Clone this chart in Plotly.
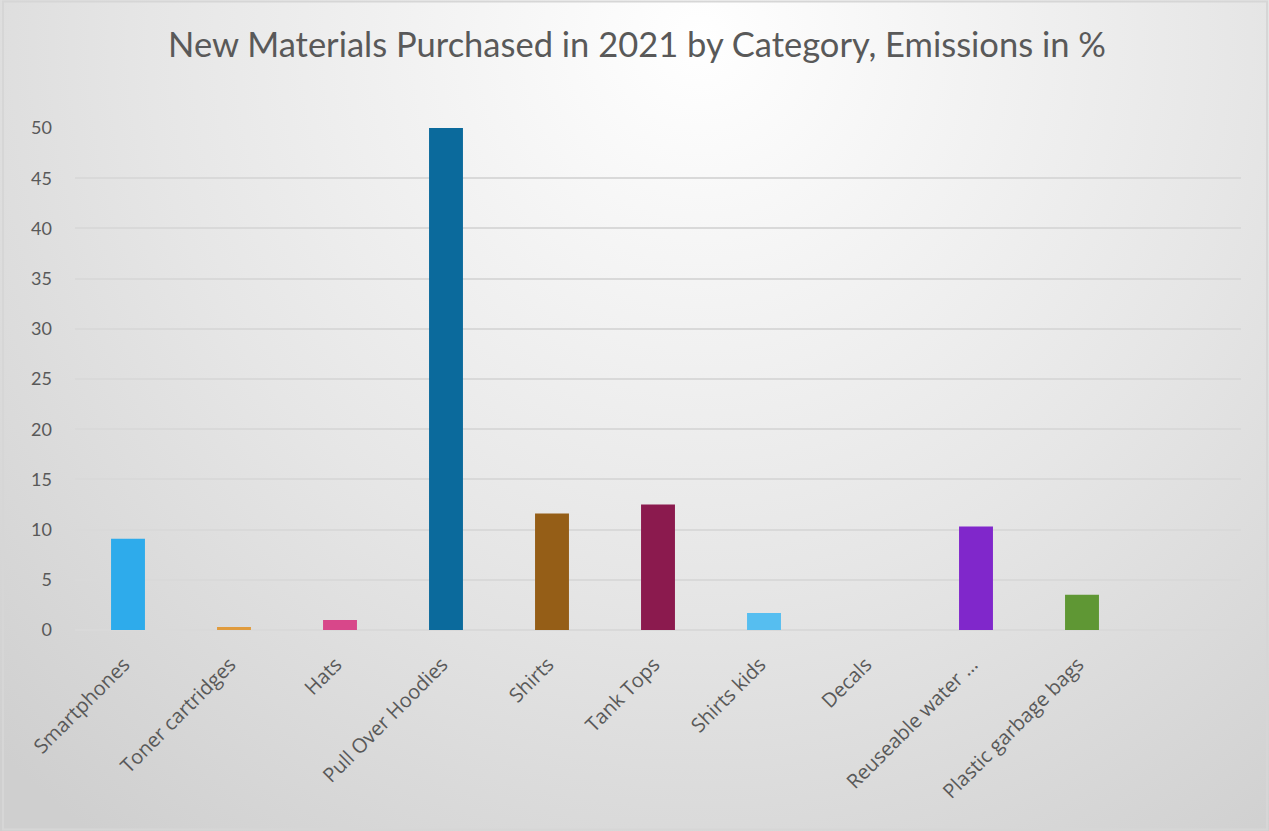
import base64
import plotly.graph_objects as go

categories = ["Smartphones", "Toner cartridges", "Hats", "Pull Over Hoodies", "Shirts",
              "Tank Tops", "Shirts kids", "Decals", "Reuseable water …", "Plastic garbage bags", " "]
values = [9.1, 0.3, 1.0, 50.1, 11.6, 12.5, 1.7, 0.0, 10.3, 3.5, None]
colors = ["#2EABEB", "#E09B3D", "#D8478A", "#0B6A9C", "#955E17",
          "#8B1A4E", "#56BEF0", "#4A8A3A", "#8027CB", "#5F9734", "#FFFFFF"]
y_ticks = [0, 5, 10, 15, 20, 25, 30, 35, 40, 45, 50]

W, H = 1269, 831
L, R, T, B = 75, 28, 128, 201
pw, ph = W - L - R, H - T - B

svg = f'''<svg xmlns="http://www.w3.org/2000/svg" width="{W}" height="{H}" viewBox="0 0 {W} {H}" preserveAspectRatio="none">
<defs><radialGradient id="g" gradientUnits="userSpaceOnUse" cx="700" cy="40" r="1000">
<stop offset="0" stop-color="#ffffff"/><stop offset="0.55" stop-color="#e6e6e6"/><stop offset="1" stop-color="#cfcfcf"/></radialGradient></defs>
<rect x="0" y="0" width="{W}" height="{H}" fill="url(#g)"/>
<rect x="3" y="1.5" width="{W-5}" height="{H-3}" fill="none" stroke="#d6d6d6" stroke-width="2"/>
</svg>'''
src = "data:image/svg+xml;base64," + base64.b64encode(svg.encode()).decode()

fig = go.Figure(go.Bar(x=categories, y=values, marker=dict(color=colors, line=dict(width=0)),
                       hoverinfo="x+y"))

fig.update_layout(
    width=W, height=H,
    margin=dict(l=L, r=R, t=T, b=B),
    paper_bgcolor="rgba(0,0,0,0)", plot_bgcolor="rgba(0,0,0,0)",
    bargap=0.68,
    showlegend=False,
    title=dict(text="New Materials Purchased in 2021 by Category, Emissions in %",
               x=0.502, xanchor="center", y=1 - 45 / H, yanchor="middle", yref="container",
               font=dict(family="Lato", size=34.5, color="#595959")),
    images=[dict(source=src, xref="paper", yref="paper", x=-L / pw, y=1 + T / ph,
                 sizex=W / pw, sizey=H / ph, sizing="stretch", layer="below",
                 xanchor="left", yanchor="top")],
    xaxis=dict(type="category", tickangle=-45, showgrid=False, showline=False, ticks="",
               ticklabelstandoff=18, ticklabelshift=-4,
               tickfont=dict(family="Open Sans", size=20, color="#595959"), zeroline=False),
    yaxis=dict(range=[0, 50], tickvals=y_ticks, showgrid=True, gridcolor="#d9d9d9", gridwidth=1.5,
               zeroline=True, zerolinecolor="#d9d9d9", zerolinewidth=1.5, showline=False, ticks="",
               ticklabelstandoff=22,
               tickfont=dict(family="Lato", size=18, color="#595959")),
)

fig.write_html("out.html", config={"displayModeBar": False},
               post_script="document.body.style.margin='0';document.body.style.overflow='hidden';")
